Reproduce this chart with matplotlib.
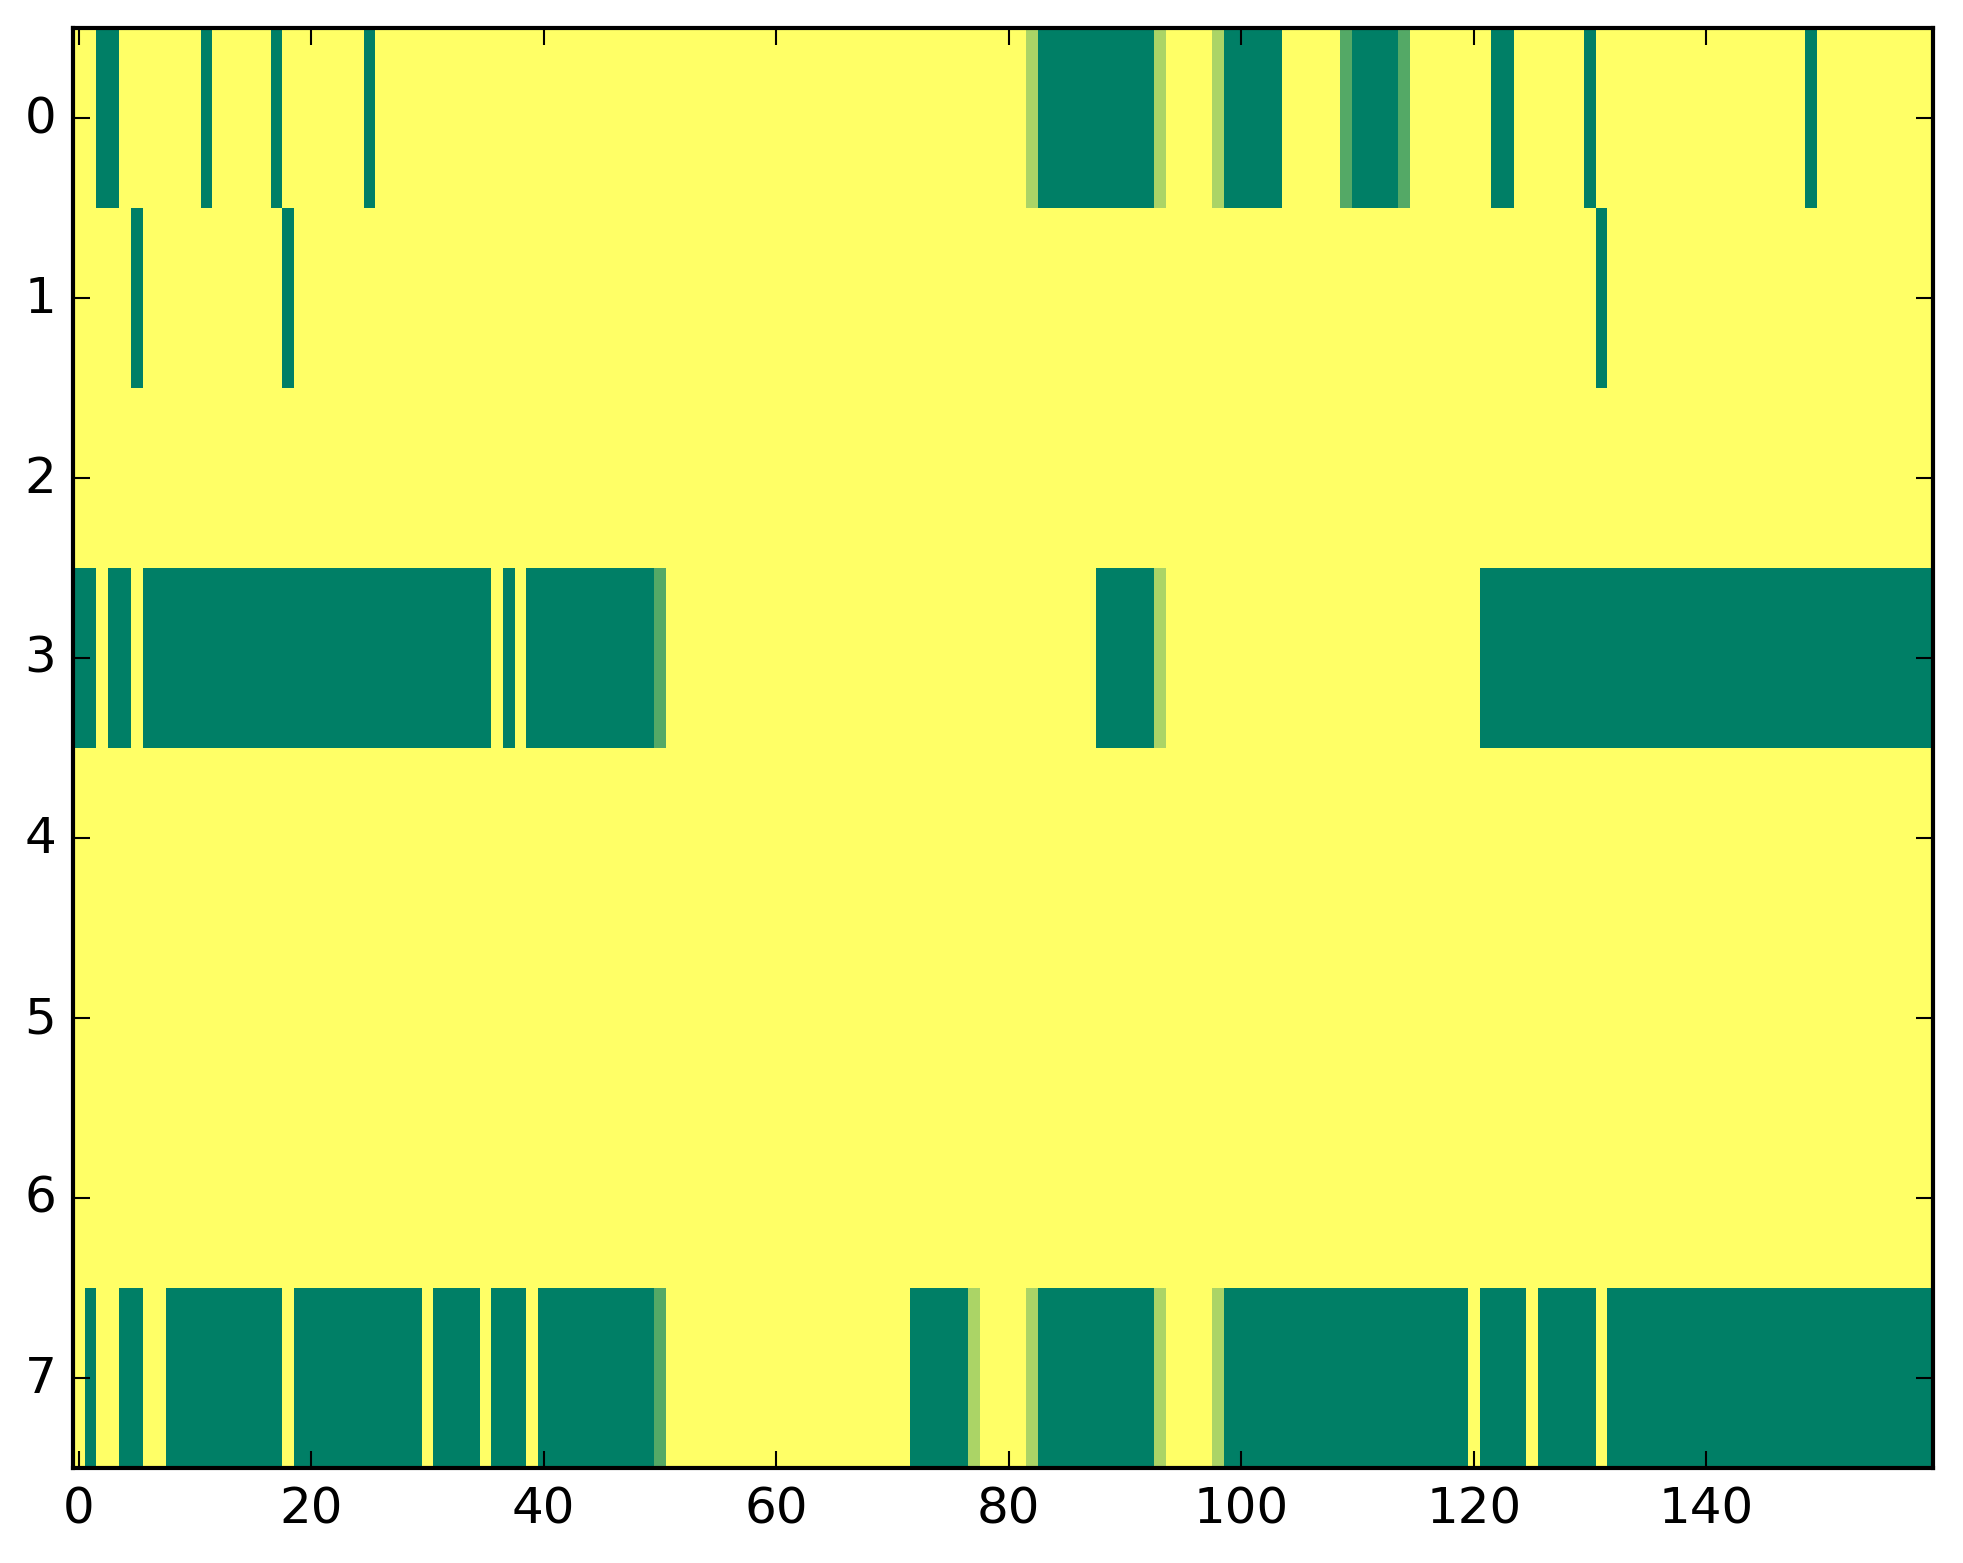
import numpy as np
import matplotlib
matplotlib.use("Agg")
import matplotlib.pyplot as plt

plt.style.use("classic")

N_ROWS = 8
N_COLS = 160

# green runs (value 0) per row, as (first_col, last_col) inclusive
row0_dark = [(2, 3), (11, 11), (17, 17), (25, 25), (83, 92), (99, 103),
             (110, 113), (122, 123), (130, 130), (149, 149)]
row1_dark = [(5, 5), (18, 18), (131, 131)]
row3_dark = [(0, 1), (3, 4), (6, 35), (37, 37), (39, 49), (88, 92), (121, 159)]
row7_dark = [(1, 1), (4, 5), (8, 17), (19, 29), (31, 34), (36, 38), (40, 49),
             (72, 76), (83, 92), (99, 119), (121, 124), (126, 130), (132, 159)]

# in-between cells seen at some edges
row0_partial = {82: 0.67, 93: 0.67, 98: 0.67, 109: 0.33, 114: 0.33}
row3_partial = {50: 0.33, 93: 0.67}
row7_partial = {50: 0.33, 77: 0.67, 82: 0.67, 93: 0.67, 98: 0.67}

dark_runs = {0: row0_dark, 1: row1_dark, 3: row3_dark, 7: row7_dark}
partials = {0: row0_partial, 3: row3_partial, 7: row7_partial}

grid = np.ones((N_ROWS, N_COLS))
for r, runs in dark_runs.items():
    for a, b in runs:
        grid[r, a:b + 1] = 0.0
for r, cells in partials.items():
    for c, v in cells.items():
        grid[r, c] = v

fig = plt.figure(figsize=(1963 / 300, 1564 / 300), dpi=300, facecolor="white")
ax = fig.add_axes([73 / 1963, 1 - 1469 / 1564, 1860 / 1963, 1440 / 1564])
ax.imshow(grid, cmap="summer", vmin=0, vmax=1, aspect="auto",
          interpolation="nearest")
ax.set_xticks(np.arange(0, 141, 20))
ax.set_yticks(np.arange(0, 8))
ax.set_xlim(-0.5, N_COLS - 0.5)
ax.set_ylim(N_ROWS - 0.5, -0.5)

fig.savefig("out.png", dpi=300, facecolor="white")
